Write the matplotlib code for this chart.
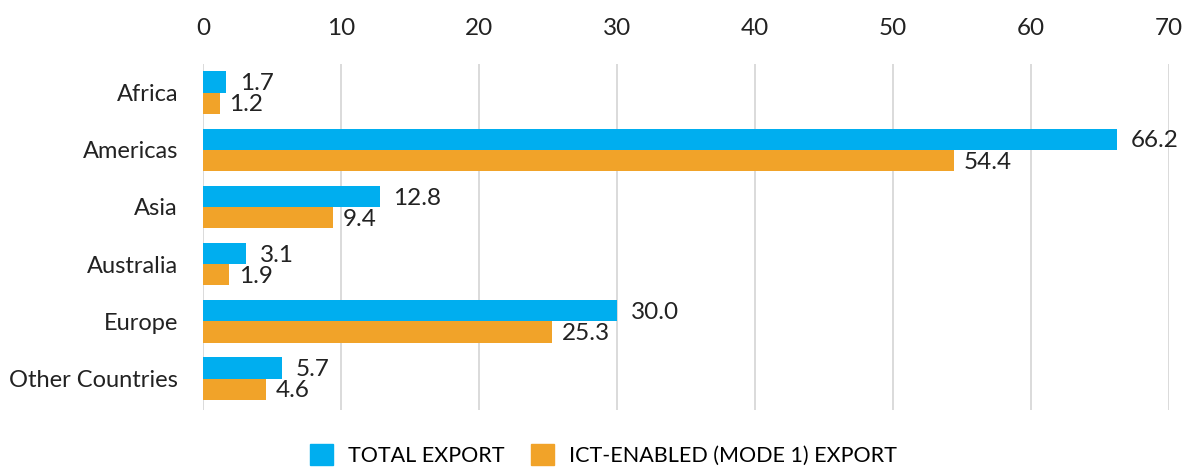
import matplotlib.pyplot as plt
import numpy as np
from matplotlib.patches import Patch

plt.rcParams['font.family'] = ['Lato', 'DejaVu Sans']

regions = ['Africa', 'Americas', 'Asia', 'Australia', 'Europe', 'Other Countries']
total_export = [1.7, 66.2, 12.8, 3.1, 30.0, 5.7]
ict_export = [1.2, 54.4, 9.4, 1.9, 25.3, 4.6]
series_names = ['TOTAL EXPORT', 'ICT-ENABLED (MODE 1) EXPORT']

blue = '#00AEEF'
orange = '#F1A329'

fig = plt.figure(figsize=(11.95, 4.69), dpi=100)
ax = fig.add_axes([203/1195, 1 - 410/469, (1169-203)/1195, (410-64)/469])

y = np.arange(len(regions))
h = 0.37
ax.barh(y - h/2, total_export, height=h, color=blue, zorder=3)
ax.barh(y + h/2, ict_export, height=h, color=orange, zorder=3)

for i in range(len(regions)):
    ax.text(total_export[i] + 1.0, y[i] - h/2 + 0.03, '%.1f' % total_export[i],
            va='center', ha='left', fontsize=17.5, color='#222222')
    ax.text(ict_export[i] + 0.7, y[i] + h/2 + 0.03, '%.1f' % ict_export[i],
            va='center', ha='left', fontsize=17.5, color='#222222')

ax.set_ylim(len(regions) - 0.45, -0.5)
ax.set_xlim(0, 70)
ax.set_xticks(range(0, 71, 10))
ax.xaxis.tick_top()
ax.tick_params(axis='x', length=0, pad=18, labelsize=17.5, colors='#222222')
ax.set_yticks(y)
ax.set_yticklabels(regions)
ax.tick_params(axis='y', length=0, pad=18, labelsize=17, colors='#222222')
ax.grid(axis='x', color='#d4d4d4', linewidth=1.2, zorder=0)
for s in ax.spines.values():
    s.set_visible(False)

handles = [Patch(color=blue), Patch(color=orange)]
fig.legend(handles, series_names, loc='lower center', bbox_to_anchor=(0.505, -0.035),
           ncol=2, frameon=False, fontsize=15.5, handlelength=1.1, handleheight=1.1,
           columnspacing=1.2, handletextpad=0.7)

fig.savefig('out.png', dpi=100)
